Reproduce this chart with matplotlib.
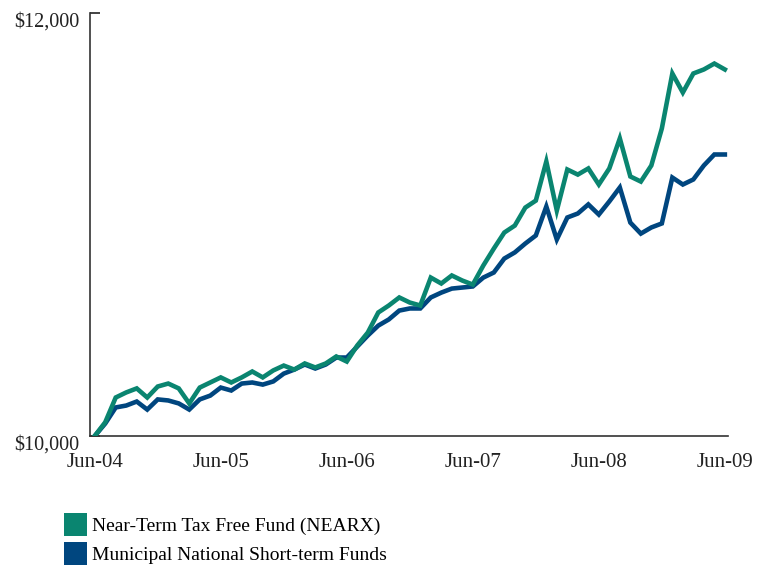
import matplotlib
matplotlib.use("Agg")
import matplotlib.pyplot as plt
from matplotlib.patches import Patch

# growth of $10,000, monthly, Jun-04 .. Jun-09
months = list(range(61))
tick_pos = [0, 12, 24, 36, 48, 60]
tick_labels = ["Jun-04", "Jun-05", "Jun-06", "Jun-07", "Jun-08", "Jun-09"]

nearx = [10000, 10065, 10182, 10206, 10225, 10182, 10234, 10248, 10225, 10154,
         10229, 10253, 10277, 10253, 10277, 10305, 10277, 10310, 10333, 10314,
         10343, 10324, 10343, 10376, 10352, 10428, 10489, 10584, 10617, 10655,
         10631, 10617, 10749, 10721, 10759, 10735, 10716, 10806, 10886, 10962,
         10995, 11080, 11113, 11298, 11066, 11260, 11236, 11265, 11189, 11265,
         11407, 11227, 11203, 11279, 11454, 11714, 11624, 11714, 11733, 11761,
         11733]

muni = [10000, 10059, 10135, 10144, 10163, 10125, 10173, 10168, 10154, 10125,
        10173, 10191, 10229, 10215, 10248, 10253, 10243, 10258, 10295, 10314,
        10338, 10319, 10338, 10371, 10371, 10423, 10475, 10522, 10551, 10593,
        10603, 10603, 10655, 10678, 10697, 10702, 10707, 10749, 10773, 10839,
        10868, 10910, 10948, 11085, 10929, 11033, 11052, 11095, 11047, 11109,
        11175, 11009, 10957, 10986, 11005, 11222, 11189, 11213, 11279, 11331,
        11331]

green = "#0a8570"
blue = "#00467f"
font = "Liberation Serif"

fig = plt.figure(figsize=(7.7, 5.66), dpi=100)
ax = fig.add_axes([90 / 770, 1 - 436 / 566, 638 / 770, 423 / 566])

ax.plot(months, nearx, color=green, lw=3.3, solid_joinstyle="miter", zorder=3)
ax.plot(months, muni, color=blue, lw=3.3, solid_joinstyle="miter", zorder=2)

ax.set_xlim(-0.45, 60.3)
ax.set_ylim(10000, 12000)

ax.set_xticks(tick_pos)
ax.set_xticklabels(tick_labels, fontfamily=font, fontsize=15)
ax.tick_params(axis="x", length=0, pad=12.5, colors="#222222")

ax.set_yticks([10000, 12000])
ax.set_yticklabels(["$10,000", "$12,000"], fontfamily=font, fontsize=14.5)
ax.tick_params(axis="y", direction="in", length=7, width=1.2, pad=7.5,
               colors="#222222")
for lab in ax.get_yticklabels():
    lab.set_va("top")

for s in ["top", "right"]:
    ax.spines[s].set_visible(False)
for s in ["left", "bottom"]:
    ax.spines[s].set_color("#333333")
    ax.spines[s].set_linewidth(1.2)

handles = [Patch(facecolor=green, edgecolor="none"),
           Patch(facecolor=blue, edgecolor="none")]
fig.legend(handles, ["Near-Term Tax Free Fund (NEARX)",
                     "Municipal National Short-term Funds"],
           loc="upper left", bbox_to_anchor=(64 / 770, 1 - 513 / 566),
           frameon=False, borderpad=0, borderaxespad=0,
           handlelength=1.18, handleheight=1.44, handletextpad=0.28,
           labelspacing=0.3, prop={"family": font, "size": 14})

fig.savefig("out.png", dpi=100)
